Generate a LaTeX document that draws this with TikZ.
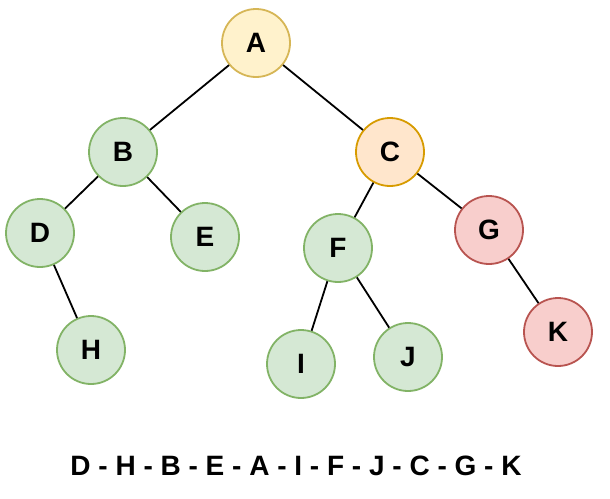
\documentclass[tikz,border=0pt]{standalone}
\usepackage{fontspec}
\setmainfont{Liberation Sans}
\usepackage{xcolor}
\usepackage{tikz}
\definecolor{tYellowFill}{HTML}{FFF2CC}
\definecolor{tYellowLine}{HTML}{D6B656}
\definecolor{tGreenFill}{HTML}{D5E8D4}
\definecolor{tGreenLine}{HTML}{82B366}
\definecolor{tOrangeFill}{HTML}{FFE6CC}
\definecolor{tOrangeLine}{HTML}{D79B00}
\definecolor{tRedFill}{HTML}{F8CECC}
\definecolor{tRedLine}{HTML}{B85450}
\tikzset{
  tnode/.style={circle,draw,line width=1.8pt,minimum size=68pt,inner sep=0pt,
    font=\fontsize{28}{32}\selectfont\bfseries},
  troot/.style={tnode,fill=tYellowFill,draw=tYellowLine},
  tleaf/.style={tnode,fill=tGreenFill,draw=tGreenLine},
  tmid/.style={tnode,fill=tOrangeFill,draw=tOrangeLine},
  tred/.style={tnode,fill=tRedFill,draw=tRedLine},
  tedge/.style={line width=1.8pt},
}

\begin{document}
\begin{tikzpicture}[x=1pt,y=-1pt]
\useasboundingbox (0,0) rectangle (610,498);
\node[troot] (a) at (256,43) {A};
\node[tleaf] (b) at (123,152) {B};
\node[tmid] (c) at (390,152) {C};
\node[tleaf] (d) at (40,233) {D};
\node[tleaf] (e) at (205,237) {E};
\node[tleaf] (f) at (338,248) {F};
\node[tred] (g) at (489,230) {G};
\node[tleaf] (h) at (91,350) {H};
\node[tleaf] (i) at (301,364) {I};
\node[tleaf] (j) at (408,357) {J};
\node[tred] (k) at (558,332) {K};
\draw[tedge] (a) -- (b);
\draw[tedge] (a) -- (c);
\draw[tedge] (b) -- (d);
\draw[tedge] (b) -- (e);
\draw[tedge] (d) -- (h);
\draw[tedge] (c) -- (f);
\draw[tedge] (c) -- (g);
\draw[tedge] (f) -- (i);
\draw[tedge] (f) -- (j);
\draw[tedge] (g) -- (k);
\node[font=\fontsize{28}{32}\selectfont\bfseries] (order) at (296,466) {D - H - B - E - A - I - F - J - C - G - K};
\end{tikzpicture}
\end{document}
